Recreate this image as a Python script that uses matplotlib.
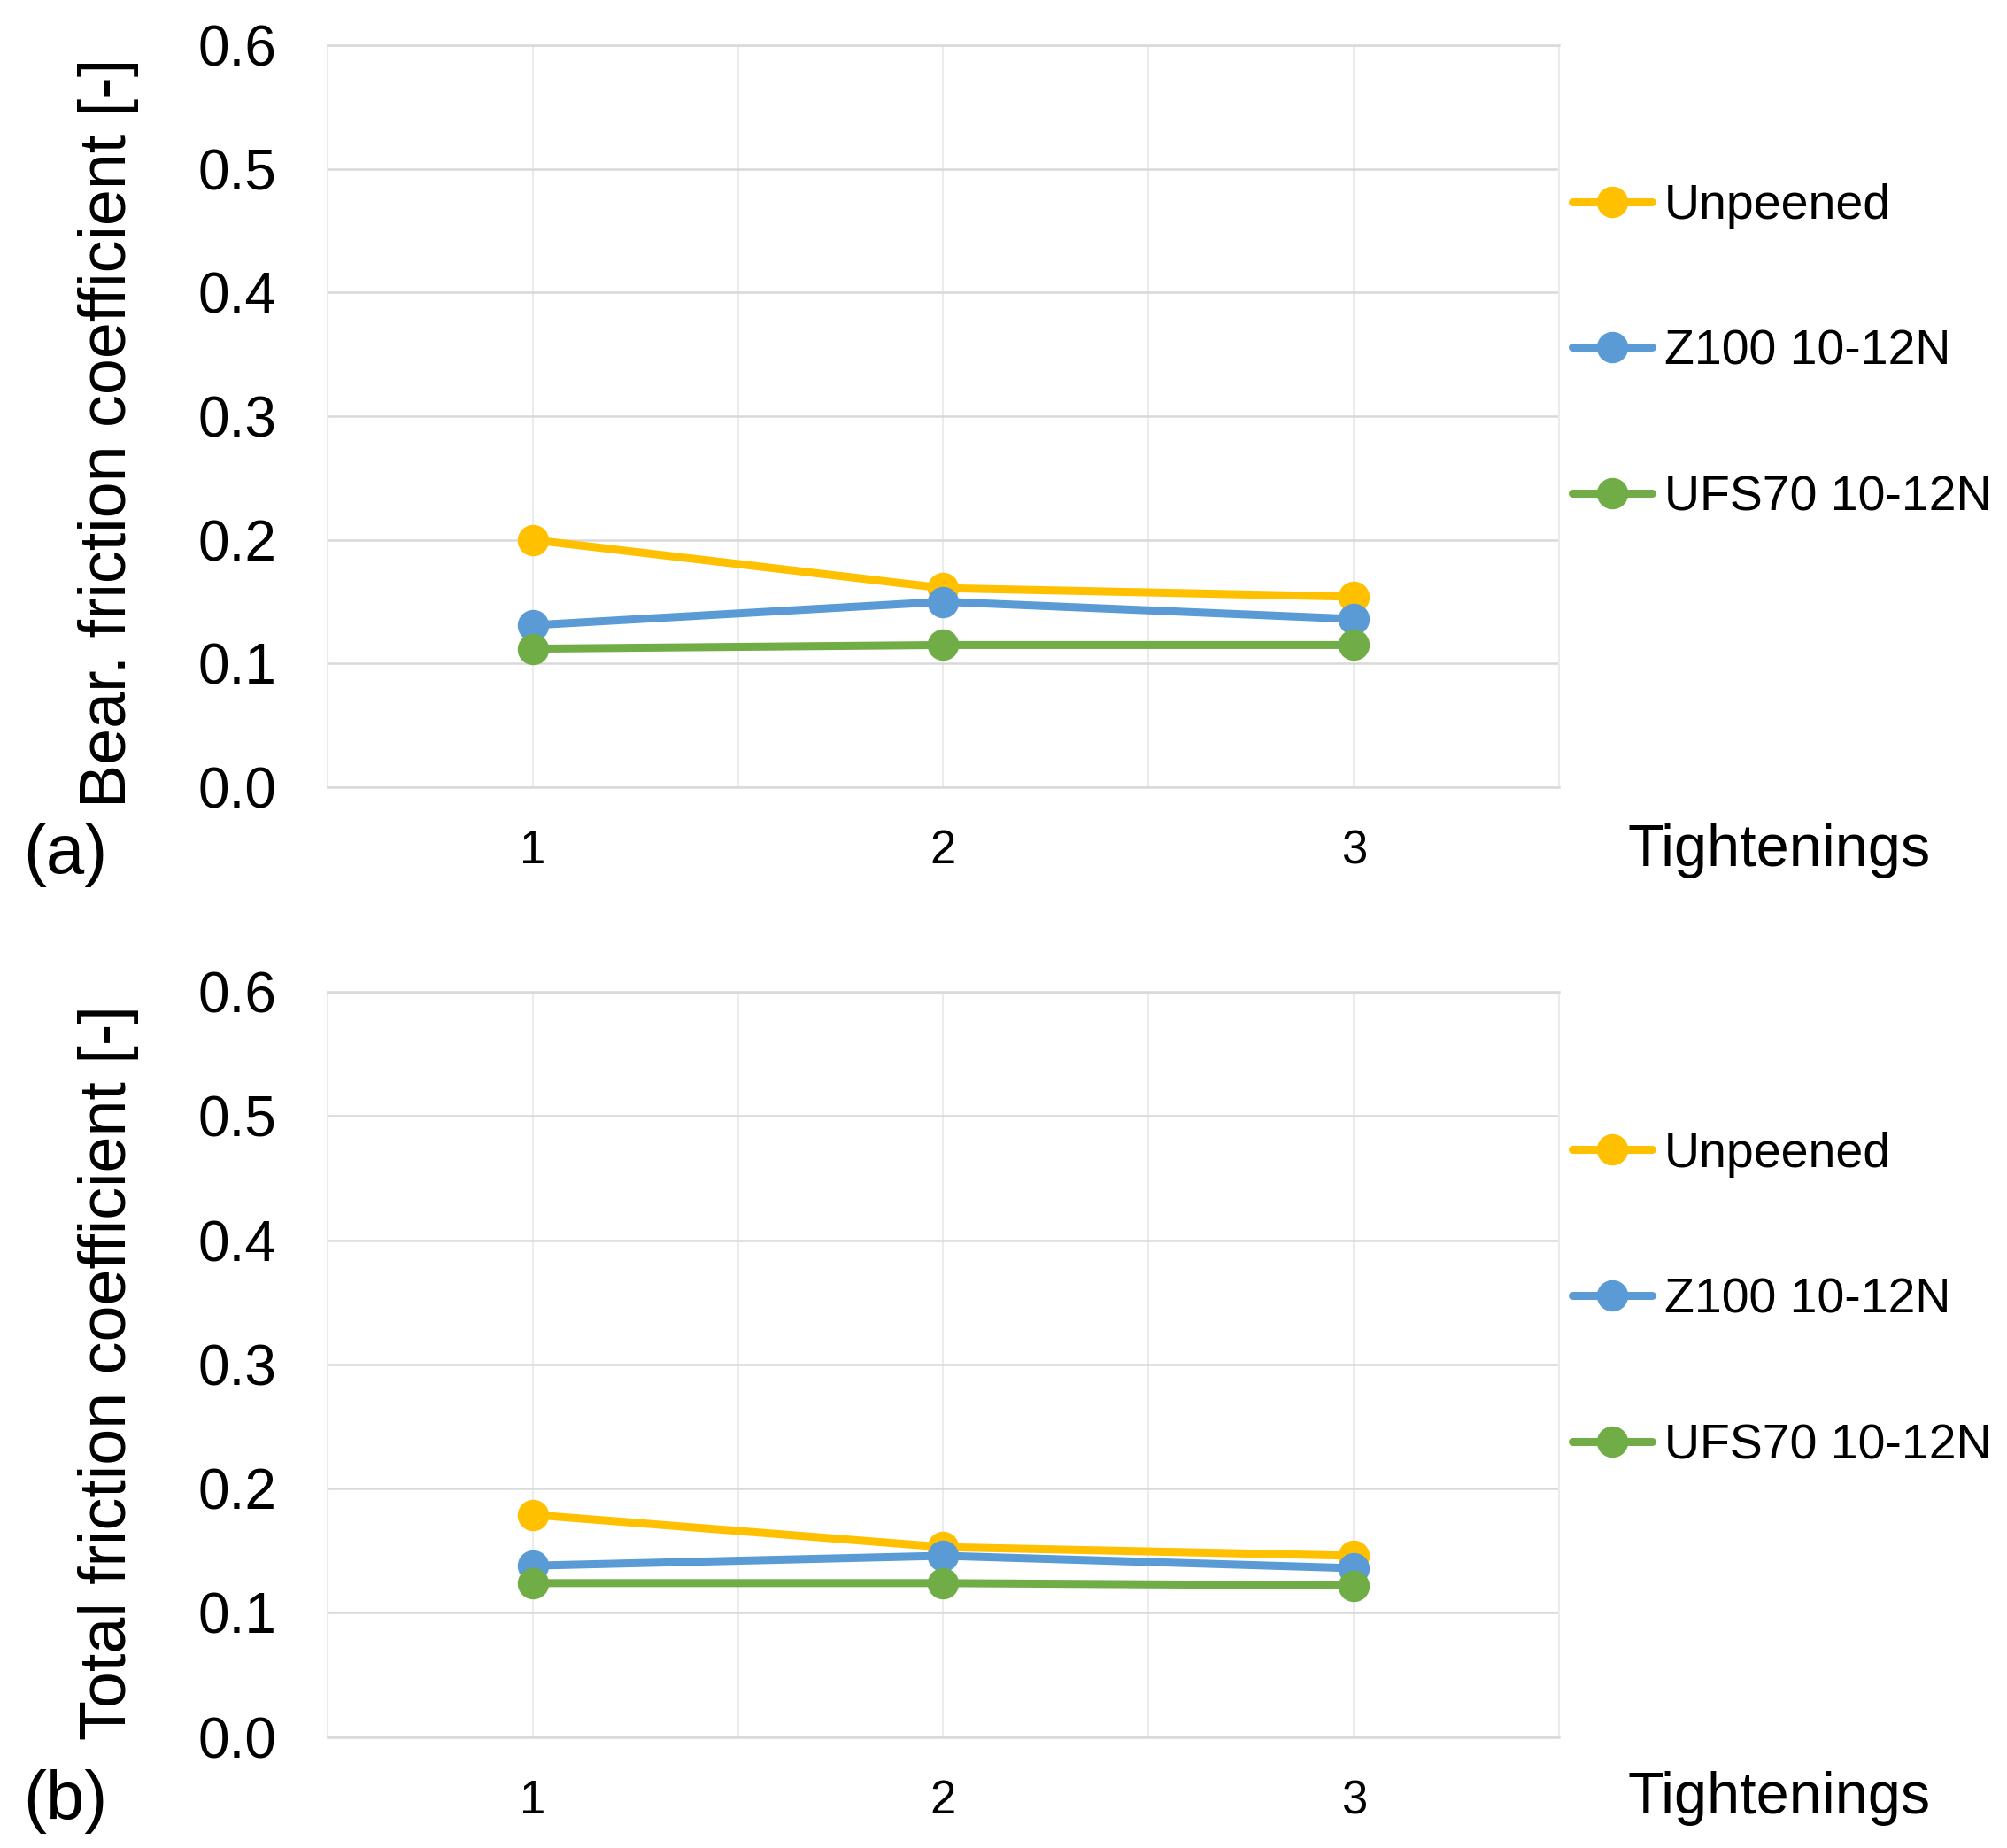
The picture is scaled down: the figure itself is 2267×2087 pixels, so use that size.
import numpy as np
import matplotlib
matplotlib.use("Agg")
import matplotlib.pyplot as plt

plt.rcParams.update({'font.family': 'Liberation Sans'})

# Daten
tightenings = [1, 2, 3]
series_names = ["Unpeened", "Z100 10-12N", "UFS70 10-12N"]
colors = ["#FFC000", "#5B9BD5", "#70AD47"]

bear_unpeened = [0.200, 0.161, 0.154]
bear_z100 = [0.131, 0.150, 0.136]
bear_ufs70 = [0.112, 0.115, 0.115]

total_unpeened = [0.179, 0.153, 0.146]
total_z100 = [0.138, 0.146, 0.136]
total_ufs70 = [0.124, 0.124, 0.122]

panels = [
    ("Bear. friction coefficient [-]", "(a)", [bear_unpeened, bear_z100, bear_ufs70]),
    ("Total friction coefficient [-]", "(b)", [total_unpeened, total_z100, total_ufs70]),
]

fig = plt.figure(figsize=(22.67, 20.87), dpi=100)

# Achsenpositionen [links, unten, breite, hoehe]
ax_rects = [[0.163, 0.574, 0.614, 0.4016], [0.163, 0.060, 0.614, 0.4033]]
label_y = [0.7657, 0.2573]
bottom_y = [0.5375, 0.0250]

for (ylabel, tag, data), rect, ly, by in zip(panels, ax_rects, label_y, bottom_y):
    ax = fig.add_axes(rect)
    for vals, name, c in zip(data, series_names, colors):
        ax.plot(tightenings, vals, "-o", color=c, lw=6.5, ms=24.5, label=name,
                solid_capstyle="round", zorder=3)

    ax.set_xlim(0.5, 3.5)
    ax.set_ylim(0, 0.6)
    ax.set_xticks(tightenings)
    ax.set_xticks([0.5, 1.5, 2.5, 3.5], minor=True)
    ax.set_yticks(np.arange(0, 0.61, 0.1))
    ax.set_yticklabels([f"{v:.1f}" for v in np.arange(0, 0.61, 0.1)])
    ax.tick_params(axis="y", length=0, pad=41, labelsize=46)
    ax.tick_params(axis="x", which="both", length=0, pad=34, labelsize=38)

    # Gitter
    ax.grid(axis="y", color="#D9D9D9", lw=1.8, zorder=0)
    ax.grid(axis="x", which="both", color="#EBEBEB", lw=1.5, zorder=0)
    ax.set_axisbelow(True)
    for side in ["left", "right"]:
        ax.spines[side].set_color("#EBEBEB")
        ax.spines[side].set_linewidth(1.5)
    for side in ["top", "bottom"]:
        ax.spines[side].set_color("#D9D9D9")
        ax.spines[side].set_linewidth(1.8)

    ax.legend(loc="center left", bbox_to_anchor=(1.0104, 0.586), frameon=False,
              fontsize=40, handlelength=1.62, handletextpad=0.25, labelspacing=2.03,
              borderpad=0, borderaxespad=0)

    fig.text(0.0542, ly, ylabel, rotation=90, ha="center", va="center", fontsize=53)
    fig.text(0.0326, by, tag, ha="center", va="center", fontsize=56)
    fig.text(0.8866, by + 0.002, "Tightenings", ha="center", va="center", fontsize=48)

fig.savefig("out.png", dpi=100)
